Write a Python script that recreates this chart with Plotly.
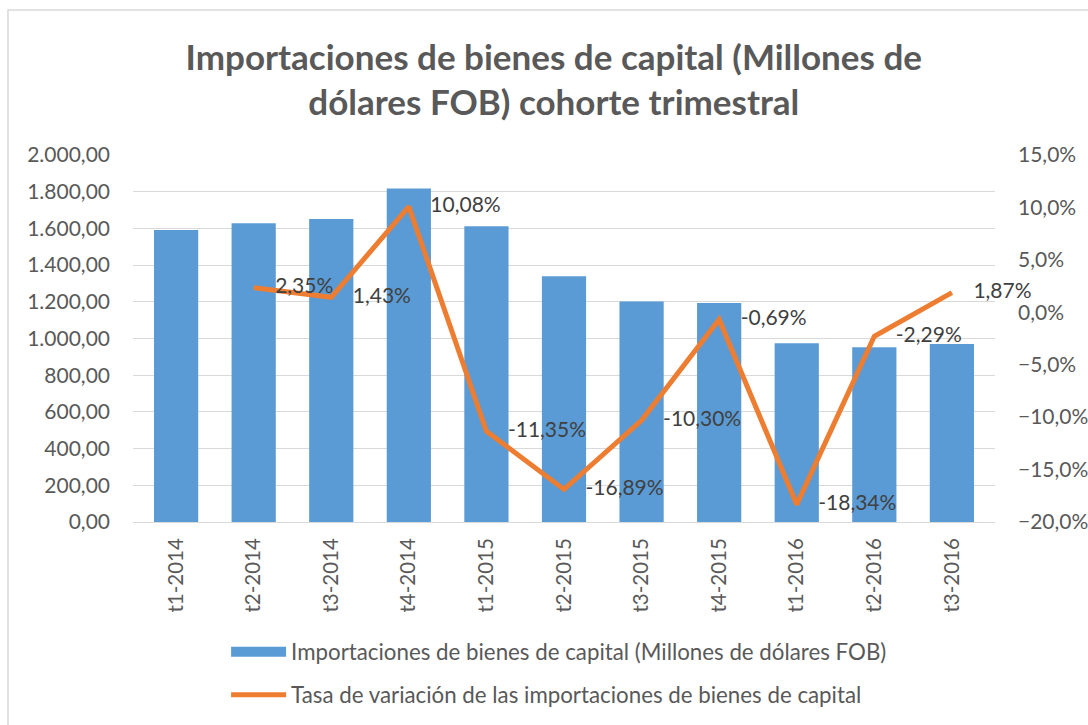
import plotly.graph_objects as go

categories = ["t1-2014", "t2-2014", "t3-2014", "t4-2014", "t1-2015", "t2-2015",
              "t3-2015", "t4-2015", "t1-2016", "t2-2016", "t3-2016"]
imports_musd = [1591, 1628, 1651, 1818, 1612, 1339, 1201, 1193, 974, 952, 970]
growth_pct = [None, 2.35, 1.43, 10.08, -11.35, -16.89, -10.30, -0.69, -18.34, -2.29, 1.87]

bar_name = "Importaciones de bienes de capital (Millones de dólares FOB)"
line_name = "Tasa de variación de las importaciones de bienes de capital"
title_text = "Importaciones de bienes de capital (Millones de<br>dólares FOB) cohorte trimestral"

FONT = "Lato"
GRAY = "#595959"
BLUE = "#5B9BD5"
ORANGE = "#ED7D31"
NB = "\u00a0"

fig = go.Figure()
fig.add_trace(go.Bar(
    x=categories, y=imports_musd, name=bar_name,
    marker=dict(color=BLUE, line=dict(width=0)),
    showlegend=False,
))
# legend-only entry drawn as a wide rectangle like the original legend key
fig.add_trace(go.Scatter(
    x=[None], y=[None], name=bar_name, mode="lines",
    line=dict(color=BLUE, width=14), legendgroup="a",
))
fig.add_trace(go.Scatter(
    x=categories, y=growth_pct, name=line_name, yaxis="y2",
    mode="lines+text", line=dict(color=ORANGE, width=5),
    texttemplate=NB * 4 + "%{y:.2f}%", textposition="middle right",
    textfont=dict(family=FONT, size=21, color="#404040"),
    legendgroup="b", cliponaxis=False,
))

fig.update_layout(
    width=1088, height=725,
    paper_bgcolor="white", plot_bgcolor="white",
    separators=",.",
    margin=dict(l=133, r=93, t=155, b=203, autoexpand=False),
    title=dict(text=title_text, x=0.509, xanchor="center", y=0.904, yanchor="top",
               font=dict(family=FONT, size=35, color=GRAY, weight="bold")),
    bargap=0.43,
    xaxis=dict(tickangle=-90, tickfont=dict(family=FONT, size=20.5, color=GRAY),
               showline=True, linecolor="#D9D9D9", ticks="", showgrid=False,
               automargin=False, ticklabelstandoff=7),
    yaxis=dict(range=[0, 2000], dtick=200, tickformat=",.2f",
               tickfont=dict(family=FONT, size=21, color=GRAY),
               gridcolor="#D9D9D9", gridwidth=1, zeroline=False, ticks="",
               automargin=False, ticklabelstandoff=22),
    yaxis2=dict(range=[-20, 15], dtick=5, tickformat=".1f", ticksuffix="%",
                overlaying="y", side="right", showgrid=False, zeroline=False,
                tickfont=dict(family=FONT, size=21, color=GRAY), ticks="",
                automargin=False, ticklabelstandoff=22),
    legend=dict(orientation="v", x=0.108, xanchor="left",
                yref="container", y=0.13, yanchor="top",
                font=dict(family=FONT, size=22.3, color=GRAY),
                traceorder="grouped", tracegroupgap=11, itemwidth=55),
    showlegend=True,
    shapes=[dict(type="rect", xref="paper", yref="paper",
                 x0=(8 - 133) / 862, x1=(1100 - 133) / 862,
                 y0=(522 - 740) / 367, y1=(522 - 10) / 367,
                 line=dict(color="#D9D9D9", width=1.5), fillcolor="rgba(0,0,0,0)",
                 layer="below")],
)

fig.write_html("out.html", config={"displayModeBar": False},
               post_script="document.body.style.margin='0';")
